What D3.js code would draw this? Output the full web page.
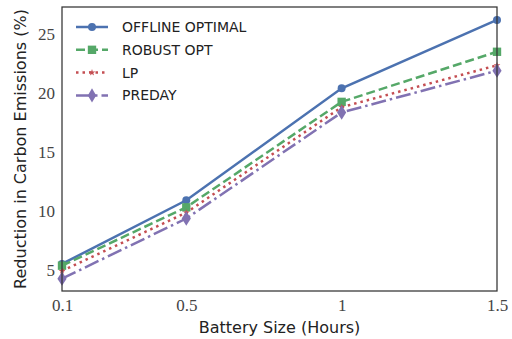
<!doctype html>
<html lang="en">
<head>
  <meta charset="utf-8">
  <script src="https://d3js.org/d3.v7.min.js"></script>
  <style>
    body { margin: 0; background: white; }
    .tick text { font-family: "Liberation Serif", serif; font-size: 17px; fill: #444; }
    .lab { font-family: "DejaVu Sans", sans-serif; font-size: 16px; fill: #222; }
    .leg { font-family: "DejaVu Sans", sans-serif; font-size: 14px; fill: #222; }
  </style>
</head>
<body>
  <svg id="plot" width="512" height="339"></svg>
  <script>
    // battery sizes in hours
    var batterySizes = [0.1, 0.5, 1, 1.5];
    var offlineOptimal = [5.5, 10.9, 20.4, 26.2];
    var robustOpt = [5.35, 10.3, 19.25, 23.5];
    var lp = [4.9, 9.85, 18.8, 22.35];
    var preday = [4.25, 9.35, 18.35, 21.9];
    var yTicks = [5, 10, 15, 20, 25];

    var series = [
      { name: "OFFLINE OPTIMAL", values: offlineOptimal, color: "#4c72b0", dash: null, marker: "circle" },
      { name: "ROBUST OPT", values: robustOpt, color: "#55a868", dash: "9,4", marker: "square" },
      { name: "LP", values: lp, color: "#c44e52", dash: "2.5,4", marker: "star" },
      { name: "PREDAY", values: preday, color: "#8172b2", dash: "15,4,2.5,4", marker: "diamond" }
    ];

    var m = { left: 62, top: 7, right: 497, bottom: 291 };
    var svg = d3.select("#plot");

    var x = d3.scaleLinear().domain([0.1, 1.5]).range([m.left, m.right]);
    var y = d3.scaleLinear().domain([3.2, 27.3]).range([m.bottom, m.top]);

    // axes (no tick marks, just labels)
    svg.append("g")
      .attr("transform", "translate(0," + m.bottom + ")")
      .call(d3.axisBottom(x).tickValues(batterySizes).tickFormat(d3.format("")).tickSize(0).tickPadding(8))
      .call(g => g.select(".domain").remove());

    svg.append("g")
      .attr("transform", "translate(" + m.left + ",0)")
      .call(d3.axisLeft(y).tickValues(yTicks).tickSize(0).tickPadding(7))
      .call(g => g.select(".domain").remove());

    function sym(type) {
      if (type == "circle") return d3.symbol(d3.symbolCircle, 50)();
      if (type == "square") return d3.symbol(d3.symbolSquare, 70)();
      if (type == "star") return d3.symbol(d3.symbolStar, 14)();
      return d3.symbol(d3.symbolDiamond, 60)();
    }

    var line = d3.line()
      .x((d, i) => x(batterySizes[i]))
      .y(d => y(d));

    var plotArea = svg.append("g");
    series.forEach(function (s) {
      plotArea.append("path")
        .attr("d", line(s.values))
        .attr("fill", "none")
        .attr("stroke", s.color)
        .attr("stroke-width", 2.5)
        .attr("stroke-dasharray", s.dash);
      plotArea.selectAll(null)
        .data(s.values)
        .enter()
        .append("path")
        .attr("d", sym(s.marker))
        .attr("transform", (d, i) => "translate(" + x(batterySizes[i]) + "," + y(d) + ")" + (s.marker == "diamond" ? " scale(1.1,1)" : ""))
        .attr("fill", s.color);
    });

    // frame
    svg.append("rect")
      .attr("x", m.left).attr("y", m.top)
      .attr("width", m.right - m.left).attr("height", m.bottom - m.top)
      .attr("fill", "none").attr("stroke", "#333").attr("stroke-width", 1.25);

    // legend
    var legend = svg.append("g");
    series.forEach(function (s, i) {
      var ly = 27 + i * 22.8;
      legend.append("line")
        .attr("x1", 76).attr("x2", 108).attr("y1", ly).attr("y2", ly)
        .attr("stroke", s.color).attr("stroke-width", 2.5)
        .attr("stroke-dasharray", s.dash);
      legend.append("path")
        .attr("d", sym(s.marker))
        .attr("transform", "translate(92," + ly + ")")
        .attr("fill", s.color);
      legend.append("text")
        .attr("class", "leg")
        .attr("x", 122).attr("y", ly)
        .attr("dy", "0.36em")
        .text(s.name);
    });

    // axis labels
    svg.append("text")
      .attr("class", "lab")
      .attr("x", (m.left + m.right) / 2).attr("y", 333)
      .style("text-anchor", "middle")
      .text("Battery Size (Hours)");

    svg.append("text")
      .attr("class", "lab")
      .attr("transform", "translate(26," + ((m.top + m.bottom) / 2) + ") rotate(-90)")
      .style("text-anchor", "middle")
      .text("Reduction in Carbon Emissions (%)");
  </script>
</body>
</html>
